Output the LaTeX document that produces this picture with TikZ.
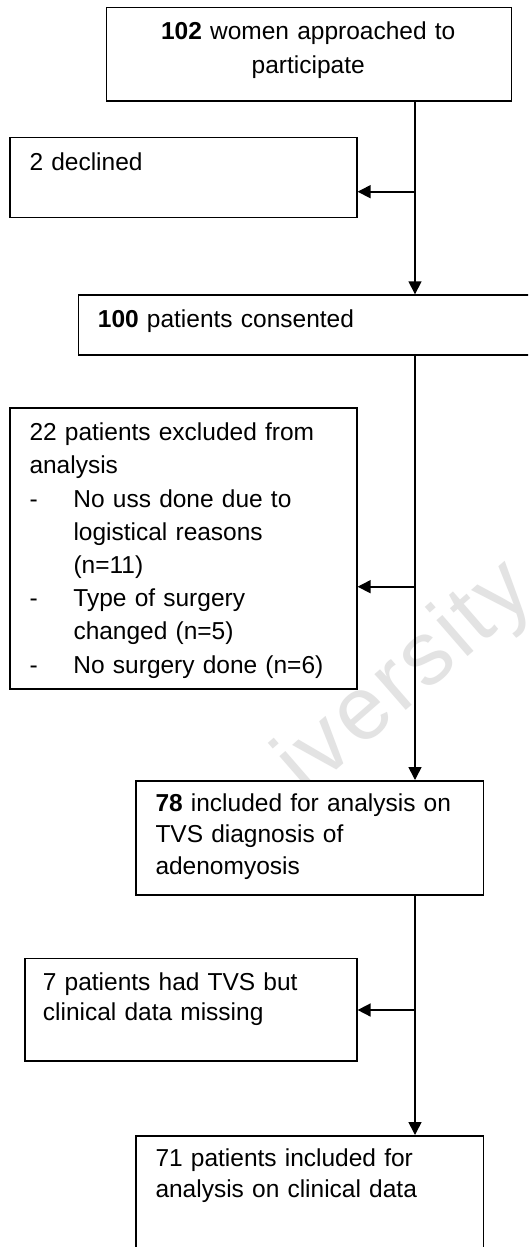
\documentclass[tikz,border=0pt]{standalone}
\usepackage{fontspec}
\setmainfont{Liberation Sans}
\newfontfamily\wmfont[LetterSpace=4]{Liberation Sans}
\usetikzlibrary{arrows.meta,calc}
\begin{document}
\begin{tikzpicture}[x=1pt,y=-1pt,
  box/.style={draw=black,line width=1.6pt,fill=white,rectangle,inner sep=0pt,anchor=north west},
  txt/.style={anchor=base west,inner sep=0pt,text width=#1,align=left,font=\fontsize{24.5}{33.2}\selectfont},
  arr/.style={line width=1.6pt,-{Triangle[length=13pt,width=13pt]}}]
\useasboundingbox (0,0) rectangle (528,1247);
\clip (0,0) rectangle (528,1247);
\fill[white] (0,0) rectangle (528,1247);
% watermark
\node[rotate=41,anchor=base west,text=black!11,inner sep=0pt,font=\wmfont\fontsize{90}{90}\selectfont] (wm) at (306,797) {iversity};
% boxes
\node[box,minimum width=405pt,minimum height=93.3pt] (b1) at (105.7,6.7) {};
\node[box,minimum width=346.7pt,minimum height=80pt] (b2) at (9.3,136.7) {};
\node[box,minimum width=470pt,minimum height=59.7pt] (b3) at (77.7,294.3) {};
\node[box,minimum width=346.7pt,minimum height=281pt] (b4) at (9.3,407.3) {};
\node[box,minimum width=347.4pt,minimum height=114pt] (b5) at (135.3,780) {};
\node[box,minimum width=332pt,minimum height=102.3pt] (b6) at (24,957.7) {};
\node[box,minimum width=347.4pt,minimum height=130pt] (b7) at (135.3,1135) {};
% texts
\node[txt=380pt,align=center,anchor=base] (t1) at (308.2,40) {\textbf{102} women approached to\\participate};
\node[txt=320pt] (t2) at (29.3,170) {2 declined};
\node[txt=420pt] (t3) at (97.7,327.3) {\textbf{100} patients consented};
\node[txt=320pt] (t4) at (29.3,440.7) {22 patients excluded from\\
analysis\\
\makebox[44pt][l]{-}No uss done due to\\
\hspace*{44pt}logistical reasons\\
\hspace*{44pt}(n=11)\\
\makebox[44pt][l]{-}Type of surgery\\
\hspace*{44pt}changed (n=5)\\
\makebox[44pt][l]{-}No surgery done (n=6)};
\node[txt=320pt,font=\fontsize{24.5}{31.6}\selectfont] (t5) at (155.3,811) {\textbf{78} included for analysis on\\TVS diagnosis of\\adenomyosis};
\node[txt=310pt,font=\fontsize{24.5}{30.7}\selectfont] (t6) at (42.7,990) {7 patients had TVS but\\clinical data missing};
\node[txt=320pt,font=\fontsize{24.5}{30.7}\selectfont] (t7) at (155.3,1166.7) {71 patients included for\\analysis on clinical data};
% connectors
\coordinate (j1) at (415,191.7);
\coordinate (j2) at (415,586.7);
\coordinate (j3) at (415,1010);
\draw[arr] (b1.south -| j1) -- (b3.north -| j1);
\draw[arr] (j1) -- (j1 -| b2.east);
\draw[arr] (b3.south -| j2) -- (b5.north -| j2);
\draw[arr] (j2) -- (j2 -| b4.east);
\draw[arr] (b5.south -| j3) -- (b7.north -| j3);
\draw[arr] (j3) -- (j3 -| b6.east);
\end{tikzpicture}
\end{document}
